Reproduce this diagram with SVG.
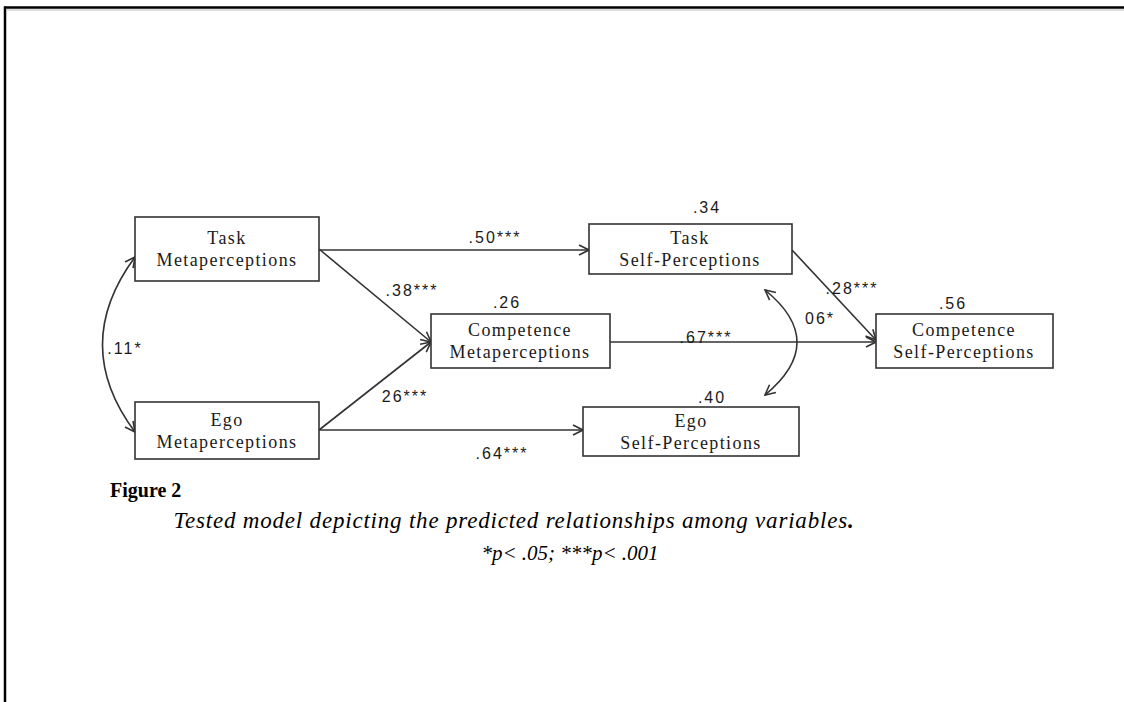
<svg xmlns="http://www.w3.org/2000/svg" width="1124" height="702" viewBox="0 0 1124 702">
<style>
.box{fill:#fff;stroke:#333;stroke-width:1.6}
.nt{font-family:"Liberation Serif",serif;font-size:18px;letter-spacing:1.4px;fill:#1a1a1a;text-anchor:middle;dominant-baseline:central}
.lb{font-family:"Liberation Sans",sans-serif;font-size:16px;letter-spacing:2px;fill:#1a1a1a;text-anchor:middle;dominant-baseline:central}
.cn{fill:none;stroke:#333;stroke-width:1.6}
.cap{font-family:"Liberation Serif",serif;fill:#000}
</style>
<defs>
<marker id="ah" viewBox="0 0 12 12" refX="11" refY="6" markerWidth="12" markerHeight="12" markerUnits="userSpaceOnUse" orient="auto-start-reverse">
<path d="M1,1 L11,6 L1,11" fill="none" stroke="#333" stroke-width="1.6"/>
</marker>
</defs>
<rect width="1124" height="702" fill="#fff"/>
<g id="frame">
<line x1="4" y1="7.5" x2="1124" y2="7.5" stroke="#000" stroke-width="2.5"/>
<line x1="7" y1="10" x2="1124" y2="10" stroke="#bbb" stroke-width="1"/>
<line x1="5" y1="6.5" x2="5" y2="702" stroke="#000" stroke-width="2.5"/>
</g>
<g id="connectors">
<line class="cn" x1="319" y1="250" x2="589" y2="250" marker-end="url(#ah)"/>
<line class="cn" x1="319" y1="249" x2="431" y2="342" marker-end="url(#ah)"/>
<line class="cn" x1="319" y1="430" x2="431" y2="342" marker-end="url(#ah)"/>
<line class="cn" x1="319" y1="430" x2="583" y2="430" marker-end="url(#ah)"/>
<line class="cn" x1="610" y1="342" x2="876" y2="342" marker-end="url(#ah)"/>
<line class="cn" x1="792" y1="250" x2="876" y2="340" marker-end="url(#ah)"/>
<path class="cn" d="M765,290 Q829,342 765,395" marker-start="url(#ah)" marker-end="url(#ah)"/>
<path class="cn" d="M135,257 Q70,345 135,432" marker-start="url(#ah)" marker-end="url(#ah)"/>
</g>
<g id="labels">
<text class="lb" x="495" y="237">.50***</text>
<text class="lb" x="412" y="290">.38***</text>
<text class="lb" x="405" y="396">26***</text>
<text class="lb" x="502" y="453">.64***</text>
<text class="lb" x="706" y="337">.67***</text>
<text class="lb" x="852" y="288">.28***</text>
<text class="lb" x="820" y="318">06*</text>
<text class="lb" x="125" y="348">.11*</text>
<text class="lb" x="707" y="207">.34</text>
<text class="lb" x="507" y="302">.26</text>
<text class="lb" x="712" y="397">.40</text>
<text class="lb" x="953" y="303">.56</text>
</g>
<g id="task-meta">
<rect class="box" x="135" y="217" width="184" height="64"/>
<text class="nt" x="227" y="238">Task</text>
<text class="nt" x="227" y="260">Metaperceptions</text>
</g>
<g id="ego-meta">
<rect class="box" x="135" y="402" width="184" height="57"/>
<text class="nt" x="227" y="420">Ego</text>
<text class="nt" x="227" y="442">Metaperceptions</text>
</g>
<g id="comp-meta">
<rect class="box" x="431" y="314" width="179" height="54"/>
<text class="nt" x="520" y="330">Competence</text>
<text class="nt" x="520" y="352">Metaperceptions</text>
</g>
<g id="task-self">
<rect class="box" x="589" y="224" width="203" height="50"/>
<text class="nt" x="690" y="238">Task</text>
<text class="nt" x="690" y="260">Self-Perceptions</text>
</g>
<g id="ego-self">
<rect class="box" x="583" y="407" width="216" height="49"/>
<text class="nt" x="691" y="421">Ego</text>
<text class="nt" x="691" y="443">Self-Perceptions</text>
</g>
<g id="comp-self">
<rect class="box" x="876" y="314" width="177" height="54"/>
<text class="nt" x="964" y="330">Competence</text>
<text class="nt" x="964" y="352">Self-Perceptions</text>
</g>
<g id="caption">
<text class="cap" x="110" y="497" font-size="20" font-weight="bold">Figure 2</text>
<text class="cap" x="514" y="528" font-size="23" font-style="italic" text-anchor="middle" letter-spacing="0.8">Tested model depicting the predicted relationships among variables<tspan font-weight="bold">.</tspan></text>
<text class="cap" x="570" y="560" font-size="21" font-style="italic" text-anchor="middle">*<tspan>p</tspan>&lt; .05; ***<tspan>p</tspan>&lt; .001</text>
</g>
</svg>
